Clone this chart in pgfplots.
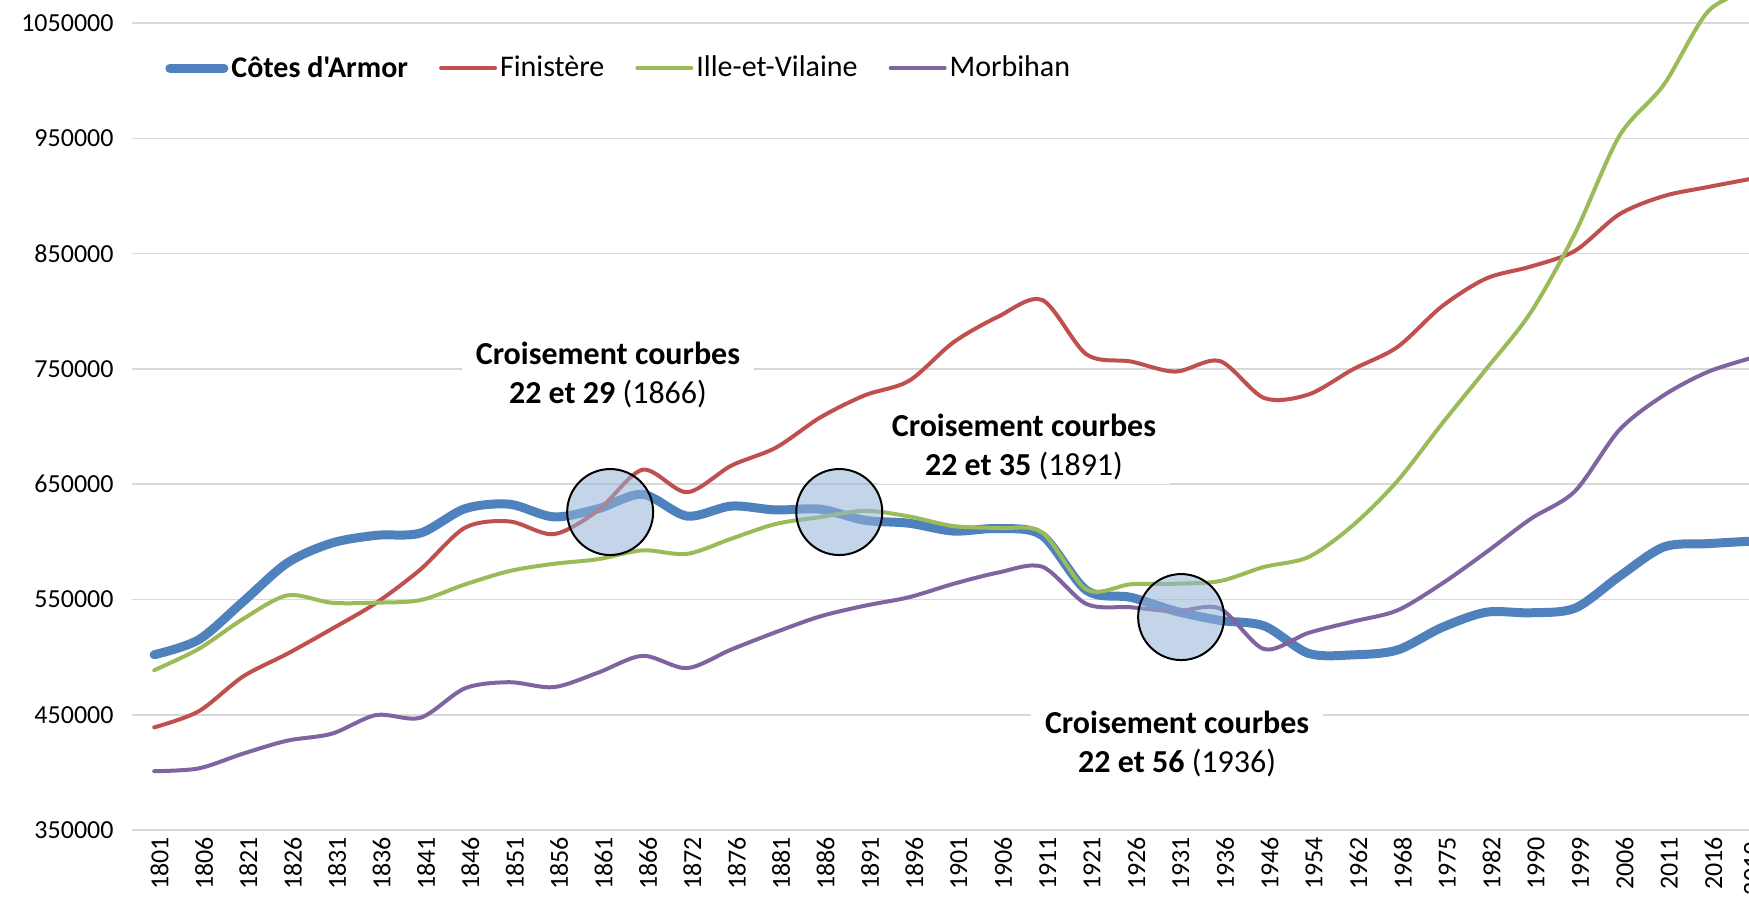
\documentclass[border=0pt]{standalone}
\usepackage{fontspec}
\setmainfont{Carlito}[Ligatures=TeXOff]
\usepackage{pgfplots}
\pgfplotsset{compat=1.18}
\usepackage{pgfplotstable}
\definecolor{cBlue}{RGB}{79,129,189}
\definecolor{cRed}{RGB}{192,80,77}
\definecolor{cGreen}{RGB}{155,187,89}
\definecolor{cPurple}{RGB}{128,100,162}
\definecolor{cGrid}{RGB}{217,217,217}
\definecolor{cFill}{RGB}{149,179,215}

\pgfplotstableread{
idx year cotes finis ille morb
0 1801 502000 439000 488600 401000
1 1806 515000 452900 507000 403400
2 1821 548000 483100 533000 416200
3 1826 581700 502900 553500 427500
4 1831 598900 524400 547100 433500
5 1836 605600 547000 547200 449700
6 1841 607600 576100 549400 447400
7 1846 628700 612200 563000 472900
8 1851 632600 617700 574600 478200
9 1856 621600 606600 580900 473900
10 1861 628700 627300 584900 486500
11 1866 641200 662500 592600 501100
12 1872 622300 643000 589500 490400
13 1876 631000 666100 602700 506600
14 1881 627600 681600 615500 521600
15 1886 628300 707800 621400 535300
16 1891 618700 727000 626900 544500
17 1896 616100 739600 622000 551900
18 1901 609300 773000 613600 563500
19 1906 611500 795100 611800 573200
20 1911 605500 809800 608100 578400
21 1921 557800 762500 558600 546000
22 1926 551800 756400 563200 543200
23 1931 539900 747600 563600 539600
24 1936 531800 756800 565900 542200
25 1946 527000 724700 578200 506900
26 1954 503200 727800 586800 521000
27 1962 501900 749600 614300 530800
28 1968 506100 768900 652700 540500
29 1975 525600 804100 702200 563600
30 1982 538900 828400 749800 590900
31 1990 538400 838700 798700 619800
32 1999 542400 852400 867500 643900
33 2006 570000 884100 952000 697000
34 2011 595500 899900 996400 727100
35 2016 598400 907800 1060200 747500
36 2019 600600 915100 1079500 759700
}\data

\newcommand{\tickfont}{\fontsize{13}{15}\selectfont}
\newcommand{\annfont}{\fontsize{16}{19.5}\selectfont}

\begin{document}
\begin{tikzpicture}
\begin{axis}[
  scale only axis,
  width=808.5pt, height=415pt,
  xmin=-0.5, xmax=35.92,
  ymin=350000, ymax=1070000,
  xtick={0,...,35},
  xticklabels={1801,1806,1821,1826,1831,1836,1841,1846,1851,1856,1861,1866,1872,1876,1881,1886,1891,1896,1901,1906,1911,1921,1926,1931,1936,1946,1954,1962,1968,1975,1982,1990,1999,2006,2011,2016},
  ytick={350000,450000,...,1050000},
  ymajorgrids,
  grid style={cGrid, line width=0.8pt},
  axis line style={draw=none},
  major tick length=0pt,
  scaled y ticks=false,
  yticklabel style={/pgf/number format/fixed, /pgf/number format/1000 sep={},
    /pgf/number format/assume math mode=true, font=\tickfont, xshift=-5.7pt},
  xticklabel style={rotate=90, anchor=east, font=\tickfont, yshift=-2.7pt},
  legend columns=4,
  legend cell align=left,
  legend style={draw=none, fill=none, at={(0.0167,0.918)}, anchor=west,
    font=\fontsize{15}{18}\selectfont,
    nodes={inner xsep=1.5pt},
    /tikz/every even column/.append style={column sep=14pt}},
  legend image code/.code={\draw[#1, line cap=round] (0pt,0pt) -- (27pt,0pt);},
  every axis plot/.append style={smooth, tension=0.5, line cap=round, line join=round},
]
\addplot[cBlue, line width=4.5pt] table[x=idx, y=cotes] {\data};
\addlegendentry{\textbf{Côtes d'Armor}}
\addplot[cRed, line width=2pt] table[x=idx, y=finis] {\data};
\addlegendentry{Finistère}
\addplot[cGreen, line width=2pt] table[x=idx, y=ille] {\data};
\addlegendentry{Ille-et-Vilaine}
\addplot[cPurple, line width=2pt] table[x=idx, y=morb] {\data};
\addlegendentry{Morbihan}

\draw[black, line width=1pt, fill=cFill, fill opacity=0.55] (axis cs:10.27,625800) circle [radius=21.5pt];
\draw[black, line width=1pt, fill=cFill, fill opacity=0.55] (axis cs:15.43,625800) circle [radius=21.5pt];
\draw[black, line width=1pt, fill=cFill, fill opacity=0.55] (axis cs:23.13,534700) circle [radius=21.5pt];

\node[fill=white, align=center, font=\annfont, inner xsep=7pt, inner ysep=2pt] at (axis cs:10.22,745000)
  {\textbf{Croisement courbes}\\\textbf{22 et 29} (1866)};
\node[fill=white, align=center, font=\annfont, inner xsep=7pt, inner ysep=2pt] at (axis cs:19.59,682600)
  {\textbf{Croisement courbes}\\\textbf{22 et 35} (1891)};
\node[fill=white, align=center, font=\annfont, inner xsep=7pt, inner ysep=2pt] at (axis cs:23.04,425000)
  {\textbf{Croisement courbes}\\\textbf{22 et 56} (1936)};

\coordinate (c2019) at (axis cs:36,350000);
\end{axis}
\node[rotate=90, anchor=east, font=\tickfont] at ([yshift=-2.7pt]c2019) {2019};
\pgfresetboundingbox
\path[use as bounding box] ([xshift=-66pt,yshift=-35.5pt]current axis.south west) rectangle (current axis.north east);
\end{tikzpicture}
\end{document}
